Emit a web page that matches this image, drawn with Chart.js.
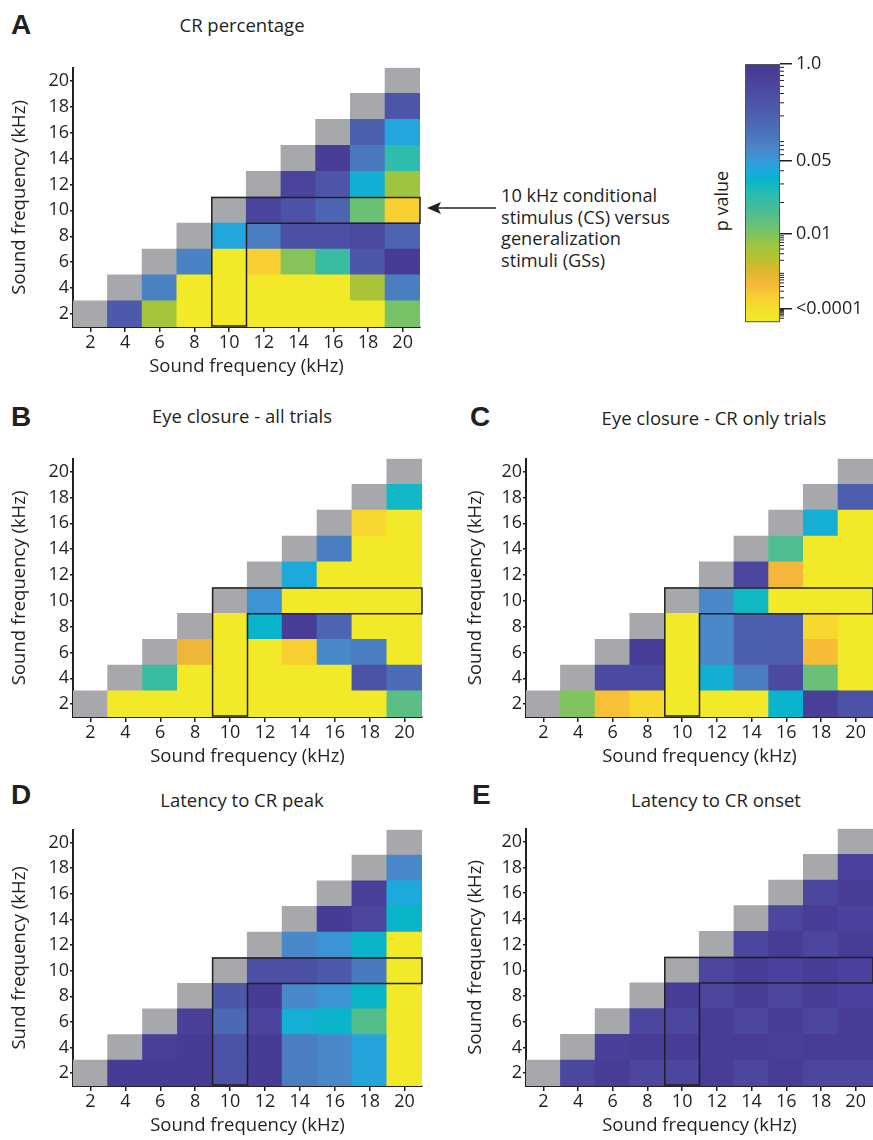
<!DOCTYPE html>
<html>
<head>
<meta charset="utf-8">
<script src="https://cdn.jsdelivr.net/npm/chart.js@4.4.1/dist/chart.umd.min.js"></script>
<style>
  body { margin: 0; width: 873px; height: 1140px; position: relative; background: #fff;
         font-family: "Open Sans", Lato, sans-serif; color: #231f20; overflow: hidden; }
  .box { position: absolute; }
  .letter { position: absolute; font-family: "Liberation Sans", Arial, sans-serif; font-weight: bold;
            font-size: 28px; line-height: 1; }
  .title { position: absolute; font-size: 18.5px; line-height: 1; white-space: nowrap; transform: translate(-50%, -50%); }
  .note { position: absolute; left: 501px; top: 185px; font-size: 18.2px; line-height: 21.5px; }
  .pval { position: absolute; left: 721px; top: 201px; font-size: 18px; white-space: nowrap;
          transform: translate(-50%, -50%) rotate(-90deg); }
</style>
</head>
<body>
<div class="letter" style="left:11px;top:11px">A</div>
<div class="title" style="left:242px;top:25px">CR percentage</div>
<div class="letter" style="left:11px;top:403px">B</div>
<div class="title" style="left:242px;top:416px">Eye closure - all trials</div>
<div class="letter" style="left:470px;top:403px">C</div>
<div class="title" style="left:714px;top:418px">Eye closure - CR only trials</div>
<div class="letter" style="left:11px;top:781px">D</div>
<div class="title" style="left:242px;top:800px">Latency to CR peak</div>
<div class="letter" style="left:472px;top:781px">E</div>
<div class="title" style="left:716px;top:800px">Latency to CR onset</div>

<div class="box" style="left:0;top:56px;width:424px;height:333px"><canvas id="chartA"></canvas></div>
<div class="box" style="left:0;top:447px;width:426px;height:332px"><canvas id="chartB"></canvas></div>
<div class="box" style="left:453px;top:447px;width:420px;height:332px"><canvas id="chartC"></canvas></div>
<div class="box" style="left:0;top:818px;width:426px;height:330px"><canvas id="chartD"></canvas></div>
<div class="box" style="left:453px;top:817px;width:420px;height:331px"><canvas id="chartE"></canvas></div>
<div class="box" style="left:745px;top:44px;width:128px;height:293px"><canvas id="colorbar"></canvas></div>

<div class="note">10 kHz conditional<br>stimulus (CS) versus<br>generalization<br>stimuli (GSs)</div>
<div class="pval">p value</div>
<svg class="box" style="left:420px;top:196px" width="80" height="24">
  <line x1="18" y1="12" x2="76" y2="12" stroke="#231f20" stroke-width="1.6"/>
  <polygon points="7,12 21,6 18,12 21,18" fill="#231f20"/>
</svg>

<script>
// frequencies (kHz) on both axes, and the conditional stimulus
const freqs = [2, 4, 6, 8, 10, 12, 14, 16, 18, 20];
const csFreq = 10;
const LOW = 0.00001; // p < 0.0001

// p values, one list per column (x frequency), from y = 2 upward; the diagonal is grey
const crPercentage = [
  [],
  [0.26],
  [0.004, 0.08],
  [LOW, LOW, 0.08],
  [LOW, LOW, LOW, 0.042],
  [LOW, LOW, 0.0002, 0.09, 0.55],
  [LOW, LOW, 0.0085, 0.35, 0.33, 0.55],
  [LOW, LOW, 0.02, 0.35, 0.17, 0.3, 0.75],
  [LOW, 0.0035, 0.28, 0.45, 0.012, 0.036, 0.1, 0.2],
  [0.0105, 0.09, 0.85, 0.18, 0.0002, 0.005, 0.023, 0.042, 0.3]
];

const eyeAllTrials = [
  [],
  [LOW],
  [LOW, 0.02],
  [LOW, LOW, 0.0006],
  [LOW, LOW, LOW, LOW],
  [LOW, LOW, LOW, 0.033, 0.055],
  [LOW, LOW, 0.0002, 0.75, LOW, 0.04],
  [LOW, LOW, 0.07, 0.17, LOW, LOW, 0.09],
  [LOW, 0.33, 0.09, LOW, LOW, LOW, LOW, 0.00015],
  [0.014, 0.14, LOW, LOW, LOW, LOW, LOW, LOW, 0.03]
];

const eyeCROnly = [
  [],
  [0.0095],
  [0.00035, 0.45],
  [0.00014, 0.45, 0.75],
  [LOW, LOW, LOW, LOW],
  [LOW, 0.036, 0.07, 0.07, 0.07],
  [LOW, 0.09, 0.2, 0.2, 0.03, 0.5],
  [0.033, 0.45, 0.22, 0.22, LOW, 0.0005, 0.016],
  [0.7, 0.012, 0.0004, 0.00014, LOW, LOW, LOW, 0.037],
  [0.33, LOW, LOW, LOW, LOW, LOW, LOW, LOW, 0.22]
];

const latencyPeak = [
  [],
  [0.85],
  [0.85, 0.7],
  [0.85, 0.85, 0.65],
  [0.33, 0.33, 0.15, 0.28],
  [0.85, 0.85, 0.55, 0.85, 0.35],
  [0.09, 0.09, 0.037, 0.07, 0.35, 0.07],
  [0.07, 0.07, 0.032, 0.055, 0.25, 0.055, 0.85],
  [0.043, 0.043, 0.015, 0.032, 0.1, 0.032, 0.5, 0.7],
  [LOW, LOW, LOW, LOW, LOW, LOW, 0.032, 0.04, 0.07]
];

const latencyOnset = [
  [],
  [0.5],
  [0.8, 0.65],
  [0.5, 0.8, 0.5],
  [0.5, 0.8, 0.5, 0.8],
  [0.8, 0.8, 0.8, 0.5, 0.5],
  [0.5, 0.8, 0.5, 0.8, 0.8, 0.5],
  [0.8, 0.7, 0.8, 0.5, 0.6, 0.8, 0.5],
  [0.5, 0.8, 0.5, 0.8, 0.8, 0.5, 0.8, 0.5],
  [0.5, 0.8, 0.8, 0.6, 0.6, 0.8, 0.6, 0.8, 0.6]
];

// colour bar ticks
const cbTicks = [1, 0.05, 0.01, 0.0001];
const cbLabels = ['1.0', '0.05', '0.01', '<0.0001'];

// colour bar is not a pure log scale: log10(p) anchors -> position (0 top, 1 bottom)
const logAnchors = [0, -1.301, -2, -4, -5];
const posAnchors = [0, 0.374, 0.659, 0.949, 1];

const cmapPos = [0, 0.06, 0.12, 0.2, 0.28, 0.33, 0.37, 0.41, 0.45, 0.5, 0.55, 0.6, 0.65, 0.7, 0.74, 0.79, 0.85, 0.9, 0.95, 1];
const cmapColors = ['#443892', '#4a419b', '#4c4ea3', '#4d60ae', '#4b76bc', '#4a88c8', '#3a97d8', '#1fa8dc',
  '#08b5cc', '#28bcb2', '#40bc9c', '#5bbf84', '#78c368', '#9cc540', '#b0c434', '#d5b82c', '#f5b73a',
  '#f9cd32', '#f4e02c', '#f2ea28'];
const GREY = '#a7a8ab';
const INK = '#231f20';

function pToT(p) {
  const l = Math.log10(p);
  if (l >= 0) return 0;
  for (let i = 0; i < logAnchors.length - 1; i++) {
    if (l >= logAnchors[i + 1]) {
      const f = (l - logAnchors[i]) / (logAnchors[i + 1] - logAnchors[i]);
      return posAnchors[i] + f * (posAnchors[i + 1] - posAnchors[i]);
    }
  }
  return 1;
}

function hexToRgb(h) {
  return [parseInt(h.slice(1, 3), 16), parseInt(h.slice(3, 5), 16), parseInt(h.slice(5, 7), 16)];
}

function colorAt(t) {
  for (let i = 0; i < cmapPos.length - 1; i++) {
    if (t <= cmapPos[i + 1]) {
      const f = (t - cmapPos[i]) / (cmapPos[i + 1] - cmapPos[i]);
      const a = hexToRgb(cmapColors[i]), b = hexToRgb(cmapColors[i + 1]);
      const c = a.map((v, k) => Math.round(v + f * (b[k] - v)));
      return `rgb(${c[0]},${c[1]},${c[2]})`;
    }
  }
  return cmapColors[cmapColors.length - 1];
}

Chart.defaults.font.family = '"Open Sans", Lato, sans-serif';
Chart.defaults.color = INK;

// L-shaped outline: CS column and CS row
const csOutline = {
  id: 'csOutline',
  afterDatasetsDraw(chart) {
    const { ctx, scales: { x, y } } = chart;
    const step = freqs[1] - freqs[0];
    const px = v => x.getPixelForValue((v - freqs[0]) / step);
    const py = v => y.getPixelForValue(v);
    const half = step / 2;
    const lo = freqs[0] - half, hi = freqs[freqs.length - 1] + half;
    ctx.save();
    ctx.strokeStyle = INK;
    ctx.lineWidth = 1.5;
    ctx.beginPath();
    ctx.moveTo(px(csFreq - half), py(csFreq + half));
    ctx.lineTo(px(hi), py(csFreq + half));
    ctx.lineTo(px(hi), py(csFreq - half));
    ctx.lineTo(px(csFreq + half), py(csFreq - half));
    ctx.lineTo(px(csFreq + half), py(lo) - 1);
    ctx.lineTo(px(csFreq - half), py(lo) - 1);
    ctx.closePath();
    ctx.stroke();
    ctx.restore();
  }
};

function makeHeatmap(id, values, yTitle, yTitlePad, rightPad) {
  const datasets = freqs.map((yf, r) => ({
    data: freqs.map(xf => (yf <= xf ? [yf - 1, yf + 1] : null)),
    backgroundColor: freqs.map((xf, c) =>
      yf === xf ? GREY : (yf < xf ? colorAt(pToT(values[c][r])) : 'rgba(0,0,0,0)')),
    borderWidth: 0,
    inflateAmount: 0.6,
    grouped: false,
    categoryPercentage: 1,
    barPercentage: 1
  }));

  const axisCommon = {
    grid: { drawOnChartArea: false, drawTicks: true, color: INK, lineWidth: 1.5, offset: false },
    border: { display: true, color: INK, width: 2 }
  };

  return new Chart(document.getElementById(id), {
    type: 'bar',
    data: { labels: freqs.map(String), datasets },
    options: {
      responsive: true,
      maintainAspectRatio: false,
      animation: false,
      layout: { padding: { top: 10, right: rightPad, left: 0, bottom: 0 } },
      plugins: { legend: { display: false }, tooltip: { enabled: false } },
      scales: {
        x: {
          ...axisCommon,
          grid: { ...axisCommon.grid, tickLength: 5 },
          ticks: { font: { size: 18 }, color: INK, padding: 0, maxRotation: 0, autoSkip: false },
          title: { display: true, text: 'Sound frequency (kHz)', font: { size: 18.5 }, color: INK,
                   padding: { top: 0, bottom: 11 } },
          afterFit: s => { s.height = 62; }
        },
        y: {
          ...axisCommon,
          type: 'linear',
          min: freqs[0] - 1,
          max: freqs[freqs.length - 1] + 1,
          grid: { ...axisCommon.grid, tickLength: 3 },
          afterBuildTicks: s => { s.ticks = freqs.map(v => ({ value: v })); },
          ticks: { font: { size: 18 }, color: INK, padding: 1 },
          title: { display: true, text: yTitle, font: { size: 18.5 }, color: INK,
                   padding: { top: yTitlePad, bottom: 0 } },
          afterFit: s => { s.width = 73; }
        }
      }
    },
    plugins: [csOutline]
  });
}

makeHeatmap('chartA', crPercentage, 'Sound frequency (kHz)', 9, 4);
makeHeatmap('chartB', eyeAllTrials, 'Sound frequency (kHz)', 9, 4);
makeHeatmap('chartC', eyeCROnly, 'Sound frequency (kHz)', 12, 0);
makeHeatmap('chartD', latencyPeak, 'Sund frequency (kHz)', 9, 4);
makeHeatmap('chartE', latencyOnset, 'Sound frequency (kHz)', 12, 0);

// colour bar
const colorbarFill = {
  id: 'colorbarFill',
  beforeDatasetsDraw(chart) {
    const { ctx, chartArea: a, scales: { y } } = chart;
    const g = ctx.createLinearGradient(0, y.getPixelForValue(0), 0, y.getPixelForValue(1));
    cmapPos.forEach((p, i) => g.addColorStop(p, cmapColors[i]));
    ctx.save();
    ctx.fillStyle = g;
    ctx.fillRect(a.left, a.top, a.right - a.left, a.bottom - a.top);
    ctx.strokeStyle = '#555';
    ctx.lineWidth = 1;
    ctx.strokeRect(a.left + 0.5, a.top + 0.5, a.right - a.left - 1, a.bottom - a.top - 1);
    // minor log ticks
    ctx.strokeStyle = INK;
    ctx.lineWidth = 1;
    for (let n = 1; n <= 5; n++) {
      for (let k = 2; k <= 9; k++) {
        const py = y.getPixelForValue(pToT(k * Math.pow(10, -n)));
        if (py < a.top || py > a.bottom) continue;
        ctx.beginPath();
        ctx.moveTo(a.right, py);
        ctx.lineTo(a.right + 4, py);
        ctx.stroke();
      }
    }
    ctx.restore();
  }
};

new Chart(document.getElementById('colorbar'), {
  type: 'bar',
  data: { labels: [''], datasets: [] },
  options: {
    responsive: true,
    maintainAspectRatio: false,
    animation: false,
    layout: { padding: { top: 20, bottom: 10, left: 0, right: 0 } },
    plugins: { legend: { display: false }, tooltip: { enabled: false } },
    scales: {
      x: { display: false },
      y: {
        position: 'right',
        type: 'linear',
        min: 0,
        max: 1,
        reverse: true,
        afterBuildTicks: s => { s.ticks = cbTicks.map(p => ({ value: pToT(p) })); },
        grid: { drawOnChartArea: false, drawTicks: true, tickLength: 12, color: INK, lineWidth: 1.5 },
        border: { display: false },
        ticks: { font: { size: 18 }, color: INK, padding: 4, callback: (v, i) => cbLabels[i] },
        afterFit: s => { s.width = 93; }
      }
    }
  },
  plugins: [colorbarFill]
});
</script>
</body>
</html>
